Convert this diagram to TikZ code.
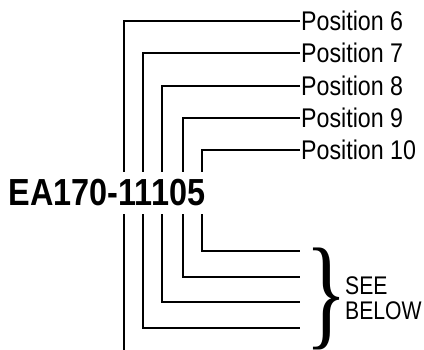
\documentclass[tikz,border=0pt]{standalone}
\usepackage{fontspec}
\setmainfont{Liberation Sans}
\newfontfamily\condfont[FakeStretch=0.86]{Liberation Sans}
\newfontfamily\narrowfont[FakeStretch=0.83]{Liberation Sans}
\newfontfamily\condbold[FakeStretch=0.86]{Liberation Sans Bold}
\newfontfamily\bracefont{Liberation Serif}
\usetikzlibrary{positioning}

\begin{document}
\begin{tikzpicture}[
x=1pt, y=-1pt, line width=2.4pt,
poslabel/.style={font=\condfont\fontsize{27}{25}\selectfont, anchor=west, inner sep=0pt},
note/.style={font=\narrowfont\fontsize{25.5}{25}\selectfont, align=left, inner sep=0pt},
code/.style={font=\condbold\fontsize{37.7}{40}\selectfont, fill=white,
    inner xsep=0pt, inner ysep=8pt, anchor=base west},
]
\useasboundingbox (0,0) rectangle (424,350);

\node[poslabel] (p6) at (300,21) {Position 6};
\node[poslabel] (p7) at (300,53) {Position 7};
\node[poslabel] (p8) at (300,86) {Position 8};
\node[poslabel] (p9) at (300,118) {Position 9};
\node[poslabel] (p10) at (300,150) {Position 10};

\coordinate (c6) at (124,352);
\coordinate (c7) at (143,328);
\coordinate (c8) at (162,302);
\coordinate (c9) at (183,277);
\coordinate (c10) at (202,251);

\draw (p6.west) -| (c6);
\draw (p7.west) -| (c7) -- (c7 -| p7.west);
\draw (p8.west) -| (c8) -- (c8 -| p8.west);
\draw (p9.west) -| (c9) -- (c9 -| p9.west);
\draw (p10.west) -| (c10) -- (c10 -| p10.west);

\node[code] (part) at (7.6,206) {EA170-11105};

\node[inner sep=0pt, anchor=west] (brace) at (304,299)
    {\resizebox*{42pt}{102pt}{\bracefont\textbraceright}};
\node[note, anchor=west] (see) at (344,298) {SEE\\BELOW};

\end{tikzpicture}
\end{document}
